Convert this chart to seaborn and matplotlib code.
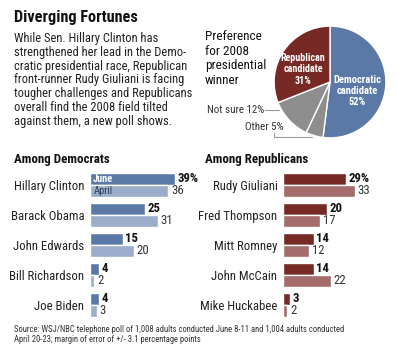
import matplotlib
matplotlib.use("Agg")
import matplotlib.pyplot as plt
import seaborn as sns
import pandas as pd
from matplotlib.lines import Line2D

# data
dem_names = ["Hillary Clinton", "Barack Obama", "John Edwards", "Bill Richardson", "Joe Biden"]
dem_june = [39, 25, 15, 4, 4]
dem_april = [36, 31, 20, 2, 3]

rep_names = ["Rudy Giuliani", "Fred Thompson", "Mitt Romney", "John McCain", "Mike Huckabee"]
rep_june = [29, 20, 14, 14, 3]
rep_april = [33, 17, 12, 22, 2]

pie_labels = ["Democratic candidate", "Other", "Not sure", "Republican candidate"]
pie_values = [52, 5, 12, 31]

W, H = 397, 359
sns.set_theme(style="white")
plt.rcParams['font.family'] = ['Liberation Sans Narrow', 'Roboto Condensed', 'DejaVu Sans']

fig = plt.figure(figsize=(W / 100, H / 100), dpi=100)
fig.patch.set_facecolor("white")


def box(l, t, w, h):
    return [l / W, 1 - (t + h) / H, w / W, h / H]


def pt(px):
    return px * 0.72


def ftext(x, y, s, **kw):
    fig.text(x / W, 1 - y / H, s, **kw)


DEM_J, DEM_A = "#5a79a6", "#9badca"
REP_J, REP_A = "#772a25", "#a46c6a"
GRAY = "#8e8e8e"
PX_PER_UNIT = 2.18

# title and intro
ftext(14, 22, "Diverging Fortunes", fontsize=pt(16.2), fontweight="bold", color="#111111")
intro = ["While Sen. Hillary Clinton has",
         "strengthened her lead in the Demo-",
         "cratic presidential race, Republican",
         "front-runner Rudy Giuliani is facing",
         "tougher challenges and Republicans",
         "overall find the 2008 field tilted",
         "against them, a new poll shows."]
for i, line in enumerate(intro):
    ftext(14, 42 + i * 13.8, line, fontsize=pt(12.5), color="#222222")

# pie
pax = fig.add_axes(box(273, 25, 114, 114))
pax.pie(pie_values, startangle=90, counterclock=False,
        colors=[DEM_J, GRAY, GRAY, REP_J],
        wedgeprops=dict(edgecolor="white", linewidth=1))
pax.set_xlim(-1.02, 1.02)
pax.set_ylim(-1.02, 1.02)
pax.set_aspect("equal")

for i, line in enumerate(["Preference", "for 2008", "presidential", "winner"]):
    ftext(205, 37 + i * 14.5, line, fontsize=pt(13.2), va="center", color="#111111")

for i, line in enumerate(["Republican", "candidate", f"{pie_values[3]}%"]):
    ftext(303, 58 + i * 11.5, line, fontsize=pt(10), fontweight="bold",
          color="white", ha="center", va="center")
for i, line in enumerate(["Democratic", "candidate", f"{pie_values[0]}%"]):
    ftext(357, 80 + i * 11, line, fontsize=pt(10.5), fontweight="bold",
          color="white", ha="center", va="center")

ftext(264, 110, f"{pie_labels[2]} {pie_values[2]}%", fontsize=pt(11), ha="right",
      va="center", color="#333333")
ftext(245, 127, f"{pie_labels[1]} {pie_values[1]}%", fontsize=pt(11), va="center",
      color="#333333")
for xs, ys in [([265, 279], [110, 110]), ([274, 274, 312], [133, 137, 137])]:
    fig.add_artist(Line2D([x / W for x in xs], [1 - y / H for y in ys],
                          color="#999999", lw=0.8))


# bar panels
def panel(left, names, june, april, cj, ca, header, hx):
    df = pd.DataFrame({
        "name": names * 2,
        "month": ["June"] * len(names) + ["April"] * len(names),
        "value": june + april,
    })
    ax = fig.add_axes(box(left, 170, 100, 150))
    sns.barplot(data=df, y="name", x="value", hue="month", orient="h",
                palette=[cj, ca], saturation=1, width=0.8, legend=False, ax=ax)
    ax.set_xlim(0, 100 / PX_PER_UNIT)
    ax.set_ylim(len(names) - 0.5, -0.5)
    sns.despine(ax=ax, left=True, bottom=True)
    ax.set_xticks([])
    ax.set_xlabel("")
    ax.set_ylabel("")
    ax.tick_params(axis="y", length=0, pad=4, labelsize=pt(12.8), labelcolor="#222222")
    jl = [f"{v}%" if i == 0 else str(v) for i, v in enumerate(june)]
    ax.bar_label(ax.containers[0], labels=jl, padding=2, fontsize=pt(12.8),
                 fontweight="bold", color="#111111")
    ax.bar_label(ax.containers[1], labels=[str(v) for v in april], padding=2,
                 fontsize=pt(12.8), color="#333333")
    ftext(hx, 163, header, fontsize=pt(13), fontweight="bold", color="#111111")
    return ax


dax = panel(90, dem_names, dem_june, dem_april, DEM_J, DEM_A, "Among Democrats", 14)
dax.text(1.5, -0.2, "June", fontsize=pt(10.5), fontweight="bold", color="white", va="center")
dax.text(1.5, 0.2, "April", fontsize=pt(10.5), color="#2b3d5e", va="center")
panel(283, rep_names, rep_june, rep_april, REP_J, REP_A, "Among Republicans", 205)

# source
ftext(14, 332, "Source: WSJ/NBC telephone poll of 1,008 adults conducted June 8-11 and 1,004 adults conducted",
      fontsize=pt(8.7), color="#333333")
ftext(14, 342, "April 20-23; margin of error of +/- 3.1 percentage points",
      fontsize=pt(8.7), color="#333333")

fig.savefig("out.png", dpi=100, facecolor="white")
